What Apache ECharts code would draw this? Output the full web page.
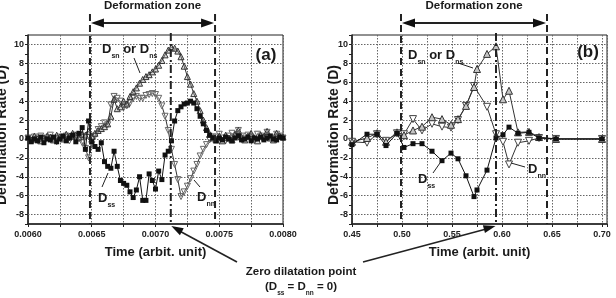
<!DOCTYPE html>
<html lang="en">
<head>
<meta charset="UTF-8">
<script src="https://cdn.jsdelivr.net/npm/echarts@6/dist/echarts.min.js"></script>
<style>html,body{margin:0;padding:0;background:#fff;} #chart{width:616px;height:298px;}</style>
</head>
<body>
<div id="chart"></div>
<script>
// panel (a): sampled every 0.000025 from 0.0060
var dssA = [0.1, -0.3, 0, -0.2, 0.2, -0.4, 0, -0.1, 0.2, -0.3, 0, 0.3, -0.2, 0.1, 0.4, -0.3, 0.6,
    1.2, -1.1, 1.9, -0.3, -0.8, -1.1, -0.4, -2.4, -2.9, -3.1, -1.3, -2.9, -4.4, -4.7, -4.9, -5.6, -6.2, -5.4, -4.0,
    -6.5, -6.5, -3.7, -4.4, -5.3, -3.4, -4.3, -1.7, -1.3, -0.2, 1.9, 3.0, 3.4, 3.7, 3.8, 4.0, 3.8, 3.2, 2.4, 1.6, 0.9, 0.4, 0.1,
    -0.2, 0.1, -0.1, 0.2, 0, -0.2, 0.1, 0.3, -0.1, 0, 0.2, -0.2, 0.1, 0, 0.2, -0.1, 0.1, 0.3, 0, -0.1, 0.2, 0.1];
var dsnA = [0.2, -0.1, 0.3, 0, -0.2, 0.1, 0.3, 0.2, -0.1, 0.4, 0.2, 0, 0.5, 0.3, 0.6, 0.4, 0.2, 0.5,
    0.4, 0.8, 0.3, 0.6, 0.9, 1.1, 1.3, 1.6, 2.4, 4.2, 3.2, 3.4, 4.0, 3.7, 4.5, 5.0, 5.4, 5.9, 6.3, 6.6, 6.8, 7.1,
    7.4, 7.8, 8.3, 8.9, 9.4, 9.7, 9.6, 9.3, 8.7, 7.7, 6.6, 5.8, 4.8, 4.0, 3.0, 2.0, 1.2, 0.5, 0.1, -0.1,
    0.3, -0.2, 0.4, 0.1, -0.1, 0.5, 0.9, 0.2, -0.1, 0.3, 0.6, 0.1, -0.2, 0.4, 0.2, 0.8, 0.1, -0.1, 0.6, 0.3, 0.2];
var dnnA = [0.1, -0.2, 0.2, 0, 0.3, -0.1, 0.1, 0.4, 0, -0.3, 0.2, 0.1, 0.3, -0.2, 0.2, 0.4, 0, -0.4,
    -1.0, -2.0, -0.6, 0.3, 1.0, 1.3, 1.7, 1.5, 3.6, 4.5, 4.3, 4.0, 3.3, 3.5, 3.8, 4.3, 4.5, 4.3, 4.3, 4.6, 4.7, 4.8,
    4.7, 4.3, 3.5, 2.4, 0.9, -1.1, -2.7, -4.3, -6.1, -5.6, -5.0, -4.2, -3.4, -2.7, -1.8, -1.1, -0.6, -0.1, 0.2,
    0.2, 0.5, 0.1, -0.2, 0.3, 0.6, 0.2, 0.9, 0.3, 0, 0.4, 0.2, -0.1, 0.5, 0.3, 0.1, 0.7, 0.2, 0, 0.5, 0.3, 0.1];

// panel (b)
var tB = [0.450, 0.465, 0.475, 0.484, 0.495, 0.502, 0.511, 0.520, 0.530, 0.540, 0.549, 0.556,
    0.564, 0.572, 0.575, 0.585, 0.594, 0.601, 0.607, 0.616, 0.627, 0.637, 0.654, 0.700];
var dssB = [-0.6, 0.5, 0.5, -0.7, 0.6, -0.9, -0.5, -0.5, -1.3, -2.3, -1.5, -2.1,
    -3.9, -6.1, -5.4, -3.3, 0.1, 0.45, 1.25, 0.6, 0.7, 0.1, 0, 0];
var dsnB = [-0.3, 0.1, 0.6, -0.3, 0.7, 0.4, 0.9, 1.3, 2.3, 2.1, 1.5, 2.1,
    3.5, 5.5, 7.4, 9.0, 9.8, 4.2, 5.1, 0.7, 0.75, 0.2, 0, 0];
var dnnB = [-0.3, -0.4, 0.5, -0.2, 0.6, 0.5, 2.1, 0.9, 1.6, 1.3, 1.2, 2.0,
    3.5, 5.6, null, 3.4, 0.5, -0.3, -2.7, -0.4, -0.2, 0.1, 0, 0];

var yGrid = [-8, -6, -4, -2, 0, 2, 4, 6, 8, 10];
var zoneA = [0.006486, 0.007467], zeroA = 0.00712;
var zoneB = [0.499, 0.645], zeroB = 0.594;

var tA = dssA.map(function (v, i) { return +(0.006 + i * 0.000025).toFixed(6); });

var FONT = 'Liberation Sans, Arial, sans-serif';
var chart = echarts.init(document.getElementById('chart'));

function pairs(t, d) {
    return t.map(function (x, i) { return [x, d[i]]; });
}

function axisX(gi, min, max, step, labelStep, dec) {
    return {
        type: 'value', gridIndex: gi, min: min, max: max, interval: step,
        axisLine: {show: true, onZero: false, lineStyle: {color: '#222', width: 1.5}},
        axisTick: {show: true, length: 3, lineStyle: {color: '#222'}},
        splitLine: {show: true, lineStyle: {type: [1.5, 1.5], color: '#666', width: 1}},
        axisLabel: {
            margin: 6, fontSize: 9, fontWeight: 'bold', color: '#222', fontFamily: FONT,
            formatter: function (v) {
                var k = (v - min) / labelStep;
                return Math.abs(k - Math.round(k)) < 1e-6 ? v.toFixed(dec) : '';
            }
        }
    };
}

function axisY(gi) {
    return {
        type: 'value', gridIndex: gi, min: -9, max: 11, interval: 1,
        axisLine: {show: true, onZero: false, lineStyle: {color: '#222', width: 1.5}},
        axisTick: {show: true, length: 3, lineStyle: {color: '#222'}},
        splitLine: {show: false},
        axisLabel: {
            margin: 4, fontSize: 9, fontWeight: 'bold', color: '#222', fontFamily: FONT,
            formatter: function (v) { return Math.round(v) % 2 === 0 ? String(v) : ''; }
        }
    };
}

function panelSeries(gi, t, dss, dsn, dnn, dense) {
    return [
        {
            type: 'line', xAxisIndex: gi, yAxisIndex: gi, data: [], silent: true,
            markLine: {
                silent: true, z: 1, symbol: ['none', 'none'], label: {show: false}, animation: false,
                lineStyle: {type: [1.5, 1.5], color: '#666', width: 1},
                data: yGrid.map(function (v) { return {yAxis: v}; })
            }
        },
        {
            type: 'line', xAxisIndex: gi, yAxisIndex: gi, data: pairs(t, dnn), connectNulls: true,
            symbol: 'triangle', symbolRotate: 180, symbolSize: dense ? 6 : 7, z: 3,
            lineStyle: {color: '#333', width: 1},
            itemStyle: {color: dense ? 'rgba(255,255,255,0.2)' : '#fff', borderColor: dense ? '#666' : '#444', borderWidth: 1}
        },
        {
            type: 'line', xAxisIndex: gi, yAxisIndex: gi, data: pairs(t, dsn),
            symbol: 'triangle', symbolSize: dense ? 6 : 7, z: 4,
            lineStyle: {color: '#333', width: 1},
            itemStyle: {color: dense ? 'rgba(150,150,150,0.35)' : '#c4c4c4', borderColor: '#333', borderWidth: 1}
        },
        {
            type: 'line', xAxisIndex: gi, yAxisIndex: gi, data: pairs(t, dss),
            symbol: 'rect', symbolSize: 5, z: 5,
            lineStyle: {color: '#111', width: 1},
            itemStyle: {color: '#111'}
        }
    ];
}

var gridBase = {top: 35, width: 255, height: 189, show: true, borderColor: '#222', borderWidth: 1,
    containLabel: false, outerBoundsMode: 'none'};

chart.setOption({
    animation: false,
    grid: [
        Object.assign({left: 28}, gridBase),
        Object.assign({left: 352}, gridBase)
    ],
    xAxis: [axisX(0, 0.006, 0.008, 0.00025, 0.0005, 4), axisX(1, 0.45, 0.705, 0.025, 0.05, 2)],
    yAxis: [axisY(0), axisY(1)],
    series: panelSeries(0, tA, dssA, dsnA, dnnA, true).concat(panelSeries(1, tB, dssB, dsnB, dnnB, false))
});

// ---------- annotations ----------
var ctx = document.createElement('canvas').getContext('2d');
function tw(str, size) {
    ctx.font = 'bold ' + size + 'px ' + FONT;
    return ctx.measureText(str).width;
}
function txt(x, y, s, size, extra) {
    return Object.assign({
        type: 'text', x: x, y: y, silent: true, z: 20,
        style: {text: s, fontSize: size, fontWeight: 'bold', fontFamily: FONT, fill: '#1a1a1a',
            align: 'left', verticalAlign: 'middle'}
    }, extra || {});
}
// parts: [text, isSubscript]
function subLabel(x, y, parts, size, subSize) {
    var out = [], cx = x;
    parts.forEach(function (p) {
        var s = p[1] ? subSize : size;
        out.push(txt(cx, p[1] ? y + size * 0.55 : y, p[0], s));
        cx += tw(p[0], s);
    });
    return out;
}
function line(x1, y1, x2, y2, w, dash) {
    return {type: 'line', silent: true, z: 15, shape: {x1: x1, y1: y1, x2: x2, y2: y2},
        style: {stroke: '#222', lineWidth: w, lineDash: dash || null}};
}
function head(tx, ty, fx, fy, len, half) {
    var dx = tx - fx, dy = ty - fy, d = Math.sqrt(dx * dx + dy * dy);
    var ux = dx / d, uy = dy / d, bx = tx - ux * len, by = ty - uy * len;
    return {type: 'polygon', silent: true, z: 16,
        shape: {points: [[tx, ty], [bx - uy * half, by + ux * half], [bx + uy * half, by - ux * half]]},
        style: {fill: '#111'}};
}

var els = [];
function panelMarks(gi, zone, zero) {
    var l = chart.convertToPixel({gridIndex: gi}, [zone[0], -9]);
    var r = chart.convertToPixel({gridIndex: gi}, [zone[1], -9]);
    var z = chart.convertToPixel({gridIndex: gi}, [zero, -9]);
    var bottom = l[1];
    els.push(line(l[0], 14, l[0], bottom, 2, [7, 4]));
    els.push(line(r[0], 14, r[0], bottom, 2, [7, 4]));
    els.push(line(l[0] + 8, 23, r[0] - 8, 23, 2));
    els.push(head(l[0] + 1, 23, r[0], 23, 13, 4.5));
    els.push(head(r[0] - 1, 23, l[0], 23, 13, 4.5));
    els.push(txt((l[0] + r[0]) / 2, 6, 'Deformation zone', 11.5, {}));
    els[els.length - 1].style.align = 'center';
    els.push(line(z[0], 33, z[0], bottom, 2, [8, 3, 2, 3]));
    return [z[0], bottom];
}
var za = panelMarks(0, zoneA, zeroA);
var zb = panelMarks(1, zoneB, zeroB);

// arrows to the zero dilatation point
els.push(line(237, 262, za[0] + 5, za[1] + 5, 1.6));
els.push(head(za[0] + 0.5, za[1] + 2, 237, 262, 12, 4));
els.push(line(363, 262, zb[0] - 6, zb[1] + 4, 1.6));
els.push(head(zb[0] - 0.5, zb[1] + 2, 363, 262, 12, 4));

var t1 = txt(301, 272, 'Zero dilatation point', 11.5);
t1.style.align = 'center';
els.push(t1);
els = els.concat(subLabel(265, 287, [['(D', 0], ['ss', 1], [' = D', 0], ['nn', 1], [' = 0)', 0]], 11.5, 6.5));

// axis titles
['a', 'b'].forEach(function (k, gi) {
    var cx = gi === 0 ? 155.5 : 479.5;
    var tt = txt(cx, 252, 'Time (arbit. unit)', 13);
    tt.style.align = 'center';
    els.push(tt);
    var yt = txt(gi === 0 ? 2 : 334, 135, 'Deformation Rate (D)', 14, {rotation: Math.PI / 2});
    yt.style.align = 'center';
    els.push(yt);
});
els.push(txt(266, 55, '(a)', 17));
els[els.length - 1].style.align = 'center';
els.push(txt(588, 52, '(b)', 17));
els[els.length - 1].style.align = 'center';

// series labels with leader lines
els = els.concat(subLabel(102, 49, [['D', 0], ['sn', 1], [' or D', 0], ['ns', 1]], 13, 7));
els.push(line(134, 58, 140, 73, 1));
els = els.concat(subLabel(98, 198, [['D', 0], ['ss', 1]], 13, 7));
els.push(line(102, 187, 108, 173, 1));
els = els.concat(subLabel(197, 197, [['D', 0], ['nn', 1]], 13, 7));
els.push(line(200, 187, 194, 180, 1));

els = els.concat(subLabel(408, 55, [['D', 0], ['sn', 1], [' or D', 0], ['ns', 1]], 13, 7));
els.push(line(458, 63, 473, 68, 1));
els = els.concat(subLabel(418, 179, [['D', 0], ['ss', 1]], 13, 7));
els.push(line(433, 173, 440, 163, 1));
els = els.concat(subLabel(528, 169, [['D', 0], ['nn', 1]], 13, 7));
els.push(line(525, 167, 511, 163, 1));

chart.setOption({graphic: {elements: els}});
</script>
</body>
</html>
